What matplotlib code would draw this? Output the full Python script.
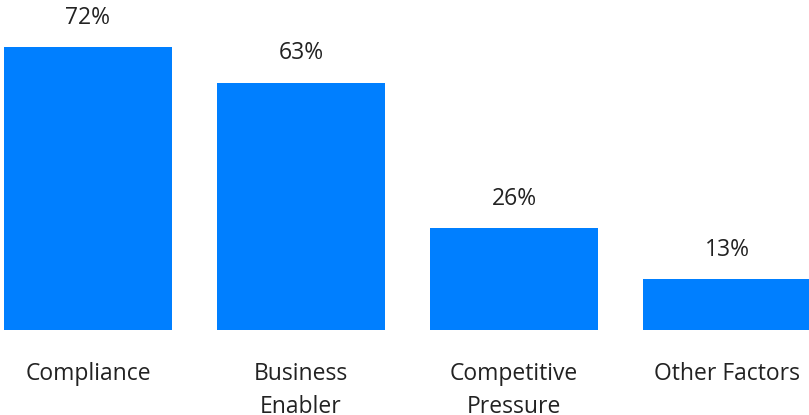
import matplotlib.pyplot as plt

categories = ["Compliance", "Business\nEnabler", "Competitive\nPressure", "Other Factors"]
values = [72, 63, 26, 13]

plt.rcParams['font.family'] = ['Open Sans', 'DejaVu Sans']

fig = plt.figure(figsize=(8.09, 4.15), dpi=100)
ax = fig.add_axes([0, 0, 1, 1])
x = range(len(values))
ax.bar(x, values, width=0.79, color='#007FFF')

for i, v in enumerate(values):
    ax.annotate(f"{v}%", (i, v), xytext=(0, 21), textcoords='offset points',
                ha='center', va='center', fontsize=16.5, color='#222222')
    ax.text(i, -8.2, categories[i], ha='center', va='top', fontsize=16.5,
            color='#222222', linespacing=1.5)

ax.set_xlim(-0.413, 3.385)
ax.set_ylim(-21.6, 84)
ax.axis('off')

fig.savefig("out.png", dpi=100)
